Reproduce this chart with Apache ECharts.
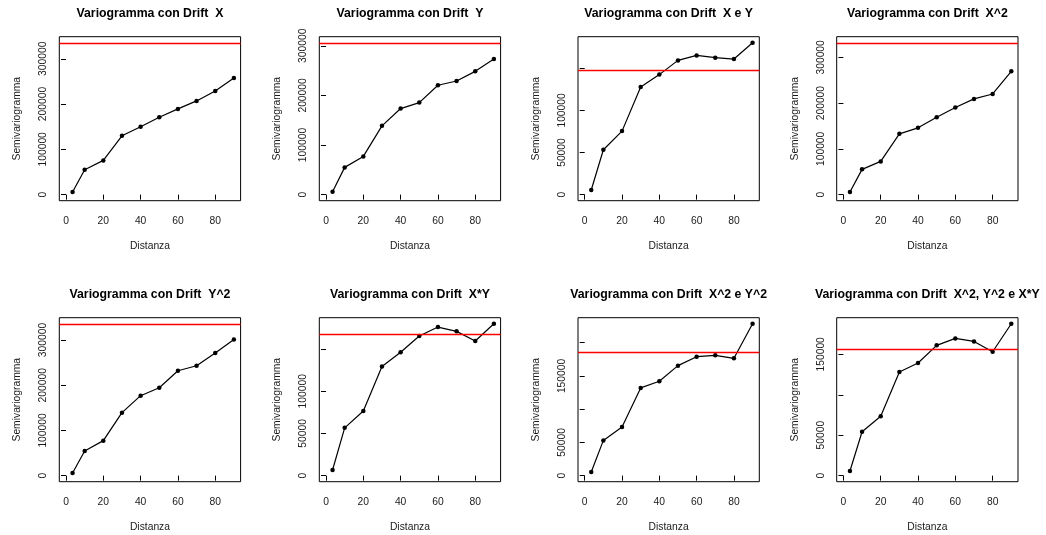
<!DOCTYPE html>
<html>
<head>
<meta charset="utf-8">
<script src="https://cdn.jsdelivr.net/npm/echarts@6/dist/echarts.min.js"></script>
<style>
html,body{margin:0;padding:0;background:#fff;}
#chart{width:1046px;height:535px;}
</style>
</head>
<body>
<div id="chart"></div>
<script>
// ---- data ----
const distances = [3.5, 10, 20, 30, 40, 50, 60, 70, 80, 90];

const titles = [
  "Variogramma con Drift  X",
  "Variogramma con Drift  Y",
  "Variogramma con Drift  X e Y",
  "Variogramma con Drift  X^2",
  "Variogramma con Drift  Y^2",
  "Variogramma con Drift  X*Y",
  "Variogramma con Drift  X^2 e Y^2",
  "Variogramma con Drift  X^2, Y^2 e X*Y"
];

const gammaX      = [5900, 55000, 75600, 129900, 149700, 171000, 189300, 206900, 228900, 257500];
const gammaY      = [6000, 54900, 77000, 138600, 173500, 185500, 220400, 229100, 248500, 273300];
const gammaXY     = [5500, 53300, 75400, 127900, 142500, 159400, 165300, 162600, 161000, 180300];
const gammaX2     = [5800, 55200, 72600, 132900, 146000, 169200, 190300, 209200, 220000, 269400];
const gammaY2     = [5900, 54500, 77400, 139300, 176900, 194500, 232100, 243200, 271200, 301400];
const gammaXtY    = [6700, 56600, 76600, 129200, 146100, 165400, 176000, 170900, 159500, 179900];
const gammaX2Y2   = [5500, 53000, 73000, 132000, 142000, 165500, 179000, 181000, 176500, 228500];
const gammaX2Y2XY = [5750, 54200, 73500, 128200, 139300, 161100, 169700, 166000, 153200, 187800];

const sills = [335300, 306100, 148000, 331900, 336000, 167700, 185000, 156100];

const xTicks = [0, 20, 40, 60, 80];
const yTicks = [
  [0, 100000, 200000, 300000],
  [0, 100000, 200000, 300000],
  [0, 50000, 100000, 150000],
  [0, 100000, 200000, 300000],
  [0, 100000, 200000, 300000],
  [0, 50000, 100000, 150000],
  [0, 50000, 100000, 150000, 200000],
  [0, 50000, 100000, 150000]
];
const yLabels = [
  [0, 100000, 200000, 300000],
  [0, 100000, 200000, 300000],
  [0, 50000, 100000],
  [0, 100000, 200000, 300000],
  [0, 100000, 200000, 300000],
  [0, 50000, 100000],
  [0, 50000, 150000],
  [0, 50000, 150000]
];

const seriesData = [gammaX, gammaY, gammaXY, gammaX2, gammaY2, gammaXtY, gammaX2Y2, gammaX2Y2XY];

// ---- layout ----
const FONT = "'Liberation Sans', Arial, Helvetica, sans-serif";
const colLeft = [59.3, 319.3, 578, 836.7];
const rowTop = [36.7, 317.7];
const boxW = 181.3, boxH = 164;
const txt = '#1a1a1a';

const grids = [], xAxes = [], yAxes = [], series = [], titleArr = [];

for (let i = 0; i < 8; i++) {
  const r = Math.floor(i / 4), c = i % 4;
  const left = colLeft[c], top = rowTop[r];
  grids.push({left: left, top: top, width: boxW, height: boxH,
    show: true, borderColor: '#000', borderWidth: 1, backgroundColor: 'transparent'});

  const xmin = 0, xmax = 90;
  const xpad = (xmax - xmin) * 0.04;
  xAxes.push({
    gridIndex: i, type: 'value', min: xmin - xpad, max: xmax + xpad,
    name: 'Distanza', nameLocation: 'middle', nameGap: 40,
    nameTextStyle: {fontFamily: FONT, fontSize: 10.3, color: txt},
    axisLine: {show: false},
    axisTick: {show: true, inside: false, length: 5, lineStyle: {color: '#000', width: 1}, customValues: xTicks},
    axisLabel: {show: true, margin: 15, fontFamily: FONT, fontSize: 10.3, color: txt, customValues: xTicks},
    splitLine: {show: false}
  });

  const topVal = Math.max(Math.max(...seriesData[i]), sills[i]);
  yAxes.push({
    gridIndex: i, type: 'value', min: -0.04 * topVal, max: 1.04 * topVal,
    name: 'Semivariogramma', nameLocation: 'middle', nameGap: 37,
    nameTextStyle: {fontFamily: FONT, fontSize: 10.3, color: txt},
    axisLine: {show: false},
    axisTick: {show: true, inside: false, length: 5, lineStyle: {color: '#000', width: 1}, customValues: yTicks[i]},
    axisLabel: {show: true, rotate: 90, margin: 11, fontFamily: FONT, fontSize: 10.3, color: txt,
      customValues: yLabels[i], formatter: v => String(Math.round(v))},
    splitLine: {show: false}
  });

  series.push({
    type: 'line', xAxisIndex: i, yAxisIndex: i,
    data: distances.map((d, k) => [d, seriesData[i][k]]),
    symbol: 'circle', symbolSize: 4.5, showSymbol: true,
    itemStyle: {color: '#000'},
    lineStyle: {color: '#000', width: 1.2},
    silent: true, animation: false,
    markLine: {
      silent: true, animation: false, symbol: ['none', 'none'],
      label: {show: false},
      lineStyle: {color: '#ff0000', type: 'solid', width: 1.4, opacity: 1},
      emphasis: {disabled: true},
      data: [{yAxis: sills[i]}]
    }
  });

  titleArr.push({
    text: titles[i], left: left + boxW / 2, top: top - 23.5,
    textAlign: 'center', textVerticalAlign: 'middle', padding: 0,
    textStyle: {fontFamily: FONT, fontSize: 12.3, fontWeight: 'bold', color: '#000'}
  });
}

const chart = echarts.init(document.getElementById('chart'), null, {renderer: 'canvas'});
chart.setOption({
  animation: false,
  backgroundColor: '#fff',
  title: titleArr,
  grid: grids,
  xAxis: xAxes,
  yAxis: yAxes,
  series: series
});
</script>
</body>
</html>
